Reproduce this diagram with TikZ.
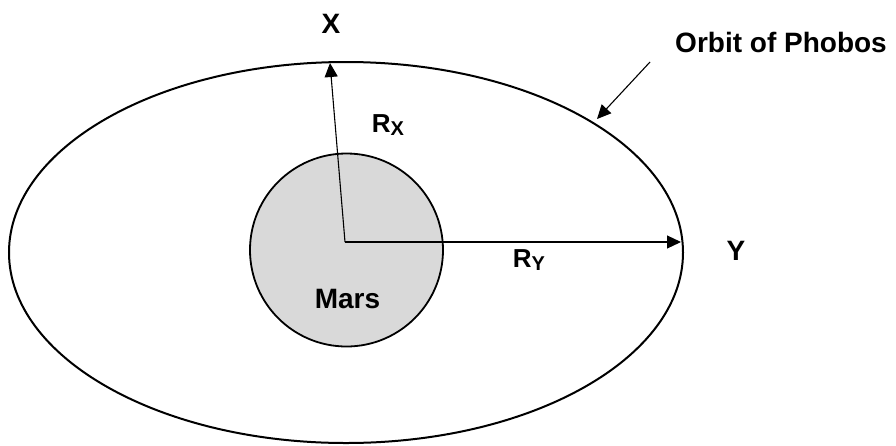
\documentclass[tikz,border=0pt]{standalone}
\usepackage{fontspec}
\setmainfont{Liberation Sans}
\usetikzlibrary{arrows.meta,positioning}
\newcommand{\orbsub}[1]{\raisebox{-3.5pt}{\fontsize{20}{20}\selectfont #1}}
\tikzset{
 orb path/.style={line width=2pt,black},
 orb planet/.style={circle,draw=black,line width=1.8pt,fill=black!15,
                    minimum size=193pt,inner sep=0pt,outer sep=0pt},
 orb arrow/.style={line width=1.1pt,-{Triangle[length=14pt,width=13pt]}},
 orb label/.style={font=\fontsize{28}{28}\selectfont\bfseries,inner sep=0pt,anchor=base},
 orb radius/.style={font=\fontsize{26}{26}\selectfont\bfseries,inner sep=0pt,anchor=base}
}
\begin{document}
\begin{tikzpicture}[x=1pt,y=-1pt]
 \useasboundingbox (0,0) rectangle (896,445);
 \coordinate (o) at (345,242);
 \coordinate (xtip) at (330,63);
 \coordinate (ytip) at (681,242);
 \coordinate (ptail) at (650,62);
 \coordinate (phead) at (597,119);

 % Orbit and planet
 \draw[orb path] (346,252.5) ellipse [x radius=337,y radius=190.5];
 \node[orb planet] (mars) at (346.5,250) {};

 \draw[orb arrow] (o) -- (xtip);
 \draw[orb arrow] (o) -- (ytip);
 \draw[orb arrow] (ptail) -- (phead);

 \node[orb label] (xlab) at (331,33) {X};
 \node[orb label] (ylab) at (736,260) {Y};
 \node[orb label] (marslab) at (347.5,308) {Mars};
 \node[orb label] (phobos) at (781,52) {Orbit of Phobos};
 \node[orb radius] (rx) at (388,132) {R\orbsub{X}};
 \node[orb radius] (ry) at (529,267) {R\orbsub{Y}};
\end{tikzpicture}
\end{document}
